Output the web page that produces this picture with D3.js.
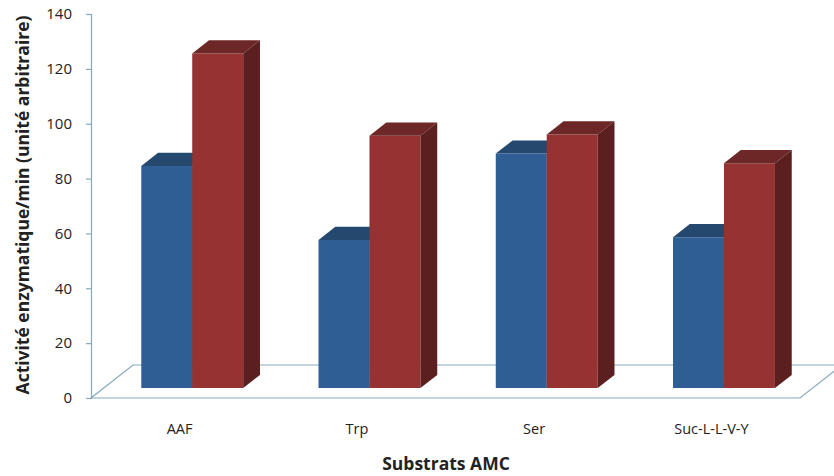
<!DOCTYPE html>
<html><head><meta charset="utf-8">
<script src="https://cdn.jsdelivr.net/npm/d3@7"></script>
<style>html,body{margin:0;padding:0;background:#fff;}svg{display:block;}</style>
</head><body>
<svg id="chart" width="834" height="476"></svg>
<script>
const categories = ["AAF", "Trp", "Ser", "Suc-L-L-V-Y"];
const seriesA = [81, 54, 85.5, 55];     // blue series
const seriesB = [122, 92, 92.5, 82];    // red series
const yTicks = [0, 20, 40, 60, 80, 100, 120, 140];
const yTitle = "Activité enzymatique/min (unité arbitraire)";
const xTitle = "Substrats AMC";

(function () {
const svg = d3.select("#chart");
const mLeft = 91, mRight = 800, mBottom = 398, mTop = 14;
const floorDx = 42, floorDy = -33;      // depth of the floor
const fFront = 0.30, fBack = 0.70;      // bar depth span as fraction of floor depth
const lineColor = "#86A9BC";
const font = "'Open Sans', 'Noto Sans', sans-serif";

const x = d3.scaleBand().domain(categories).range([mLeft, mRight]).paddingInner(0).paddingOuter(0);
const y = d3.scaleLinear().domain([0, 140]).range([mBottom, mTop]);
const sub = d3.scaleBand().domain([0, 1]).range([0, x.bandwidth() * 0.575]);

// floor
const fl = svg.append("g");
const floorPts = [[mLeft, mBottom], [mRight, mBottom], [mRight + floorDx, mBottom + floorDy], [mLeft + floorDx, mBottom + floorDy]];
fl.append("path").attr("d", "M" + floorPts.map(p => p.join(",")).join("L") + "Z")
  .attr("fill", "none").attr("stroke", lineColor).attr("stroke-width", 1.2);

// y axis
const yAxis = d3.axisLeft(y).tickValues(yTicks).tickSize(5).tickPadding(14);
const ga = svg.append("g").attr("transform", `translate(${mLeft},0)`).call(yAxis);
ga.select(".domain").attr("stroke", lineColor).attr("stroke-width", 1.2);
ga.selectAll(".tick line").attr("stroke", lineColor).attr("stroke-width", 1.2);
ga.selectAll(".tick text").attr("font-family", font).attr("font-size", 15).attr("fill", "#222");

// x labels
svg.append("g").selectAll("text").data(categories).join("text")
  .attr("x", d => x(d) + x.bandwidth() / 2).attr("y", 434)
  .attr("text-anchor", "middle").attr("font-family", font).attr("font-size", 14.5).attr("fill", "#222")
  .text(d => d);

// bars
const colors = [
  {front: "#2F5E95", top: "#25486F", side: "#1F3D60"},
  {front: "#953333", top: "#6E2727", side: "#5C1F1F"}
];
const ox = floorDx * fFront, oy = floorDy * fFront;
const ddx = floorDx * (fBack - fFront), ddy = floorDy * (fBack - fFront);
const series = [seriesA, seriesB];
const gb = svg.append("g");
categories.forEach((c, i) => {
  const gx = x(c) + (x.bandwidth() - sub.range()[1]) / 2 + ox;
  [0, 1].forEach(s => {
    const v = series[s][i];
    const x0 = gx + sub(s), x1 = x0 + sub.bandwidth();
    const yt = y(v) + oy, yb = y(0) + oy;
    const col = colors[s];
    gb.append("path").attr("d", `M${x0},${yb}L${x0},${yt}L${x1},${yt}L${x1},${yb}Z`).attr("fill", col.front);
    gb.append("path").attr("d", `M${x0},${yt}L${x0 + ddx},${yt + ddy}L${x1 + ddx},${yt + ddy}L${x1},${yt}Z`).attr("fill", col.top);
    gb.append("path").attr("d", `M${x1},${yb}L${x1},${yt}L${x1 + ddx},${yt + ddy}L${x1 + ddx},${yb + ddy}Z`).attr("fill", col.side);
  });
});

// titles
svg.append("text").attr("x", 446).attr("y", 470).attr("text-anchor", "middle")
  .attr("font-family", font).attr("font-size", 17.5).attr("font-weight", "bold").attr("fill", "#222").text(xTitle);
svg.append("text").attr("transform", "translate(29,205) rotate(-90)").attr("text-anchor", "middle")
  .attr("font-family", font).attr("font-size", 17.5).attr("font-weight", "bold").attr("fill", "#222").text(yTitle);
})();
</script>
</body></html>
